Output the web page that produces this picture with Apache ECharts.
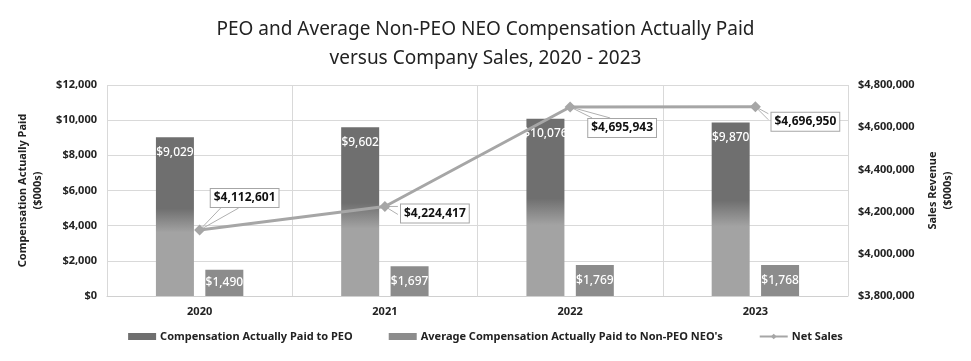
<!DOCTYPE html>
<html>
<head>
<meta charset="utf-8">
<script src="https://cdn.jsdelivr.net/npm/echarts@6/dist/echarts.min.js"></script>
<style>html,body{margin:0;padding:0;background:#fff}#c{width:971px;height:361px}</style>
</head>
<body>
<div id="c"></div>
<script>
const categories = ['2020', '2021', '2022', '2023'];
const peoComp = [9029, 9602, 10076, 9870];
const neoComp = [1490, 1697, 1769, 1768];
const netSales = [4112601, 4224417, 4695943, 4696950];
const leftTicks = [0, 2000, 4000, 6000, 8000, 10000, 12000];
const rightTicks = [3800000, 4000000, 4200000, 4400000, 4600000, 4800000];

// callout layout (pixels, relative to the data point / box centre)
const labelOffsets = [[45, -32], [50, 7], [52, 21], [50, 15]];
const wedgeAnchors = [
  [[-24, 10], [-6, 10]],
  [[-37, -7], [-37, 1]],
  [[-30, -10], [-12, -10]],
  [[-37, -8], [-37, -2]]
];

const fmt = v => '$' + Math.round(v).toLocaleString('en-US');
const chart = echarts.init(document.getElementById('c'));
const FONT = 'Noto Sans';
const GRID = '#d9d9d9';
chart.setOption({
  animation: false,
  textStyle: { fontFamily: FONT },
  title: {
    text: 'PEO and Average Non-PEO NEO Compensation Actually Paid\nversus Company Sales, 2020 - 2023',
    left: 'center', top: 10,
    textStyle: { fontFamily: FONT, fontSize: 19, fontWeight: 'normal', color: '#222', lineHeight: 29 }
  },
  grid: { left: 107, right: 123, top: 85, bottom: 65 },
  legend: {
    bottom: 14, left: 'center', itemGap: 36, itemWidth: 28, itemHeight: 7,
    textStyle: { fontFamily: FONT, fontSize: 11, fontWeight: 'bold', color: '#222', padding: [0, 0, 0, -1] },
    data: [
      { name: 'Compensation Actually Paid to PEO', icon: 'rect', itemStyle: { color: '#6f6f6f' } },
      { name: "Average Compensation Actually Paid to Non-PEO NEO's", icon: 'rect' },
      { name: 'Net Sales' }
    ]
  },
  xAxis: {
    type: 'category', data: categories,
    axisLine: { lineStyle: { color: '#d0d0d0' } },
    axisTick: { show: false },
    splitLine: { show: true, lineStyle: { color: GRID } },
    axisLabel: { fontFamily: FONT, fontSize: 11, fontWeight: 'bold', color: '#222', margin: 10 }
  },
  yAxis: [
    {
      type: 'value', min: leftTicks[0], max: leftTicks[leftTicks.length - 1], interval: 2000,
      name: 'Compensation Actually Paid\n($000s)', nameLocation: 'middle', nameGap: 49, nameRotate: 90,
      nameTextStyle: { fontFamily: FONT, fontSize: 11, fontWeight: 'bold', color: '#222', lineHeight: 15 },
      axisLine: { show: false }, axisTick: { show: false },
      splitLine: { lineStyle: { color: GRID } },
      axisLabel: { fontFamily: FONT, fontSize: 11, fontWeight: 'bold', color: '#222', margin: 10, formatter: v => fmt(v) }
    },
    {
      type: 'value', min: rightTicks[0], max: rightTicks[rightTicks.length - 1], interval: 200000,
      name: 'Sales Revenue\n($000s)', nameLocation: 'middle', nameGap: 69, nameRotate: 90,
      nameTextStyle: { fontFamily: FONT, fontSize: 11, fontWeight: 'bold', color: '#222', lineHeight: 15 },
      axisLine: { show: false }, axisTick: { show: false }, splitLine: { show: false },
      axisLabel: { fontFamily: FONT, fontSize: 11, fontWeight: 'bold', color: '#222', margin: 10, formatter: v => fmt(v) }
    }
  ],
  series: [
    {
      name: 'Compensation Actually Paid to PEO', type: 'bar', data: peoComp,
      barWidth: 38, barGap: '30%',
      itemStyle: {
        color: new echarts.graphic.LinearGradient(0, 0, 0, 1, [
          { offset: 0, color: '#6f6f6f' }, { offset: 0.45, color: '#6f6f6f' },
          { offset: 0.6, color: '#a3a3a3' }, { offset: 1, color: '#a3a3a3' }
        ])
      },
      label: { show: true, position: 'insideTop', distance: 9, color: '#fff', fontSize: 12, fontWeight: 500, fontFamily: FONT, formatter: p => fmt(p.value) }
    },
    {
      name: "Average Compensation Actually Paid to Non-PEO NEO's", type: 'bar', data: neoComp,
      barWidth: 38,
      itemStyle: { color: '#8c8c8c' },
      label: { show: true, position: 'inside', color: '#fff', fontSize: 12, fontWeight: 500, fontFamily: FONT, formatter: p => fmt(p.value) }
    },
    {
      name: 'Net Sales', type: 'line', yAxisIndex: 1, data: netSales,
      symbol: 'diamond', symbolSize: 11,
      lineStyle: { color: '#a6a6a6', width: 3 },
      itemStyle: { color: '#a6a6a6' },
      z: 5,
      label: {
        show: true, position: 'inside', formatter: p => fmt(p.value),
        backgroundColor: '#fff', borderColor: '#a6a6a6', borderWidth: 1, padding: [3, 3],
        color: '#111', fontWeight: 'bold', fontSize: 12, fontFamily: FONT
      },
      labelLayout: p => ({ dx: labelOffsets[p.dataIndex][0], dy: labelOffsets[p.dataIndex][1] })
    },
    {
      name: 'callouts', type: 'custom', yAxisIndex: 1, z: 4, silent: true,
      data: netSales.map((v, i) => [i, v]),
      renderItem: (params, api) => {
        const i = params.dataIndex;
        const pt = api.coord([api.value(0), api.value(1)]);
        const cx = pt[0] + labelOffsets[i][0], cy = pt[1] + labelOffsets[i][1];
        const a = wedgeAnchors[i];
        return {
          type: 'polyline',
          shape: { points: [[cx + a[0][0], cy + a[0][1]], pt, [cx + a[1][0], cy + a[1][1]]] },
          style: { stroke: '#b0b0b0', lineWidth: 1, fill: null }
        };
      }
    }
  ]
});
</script>
</body>
</html>
